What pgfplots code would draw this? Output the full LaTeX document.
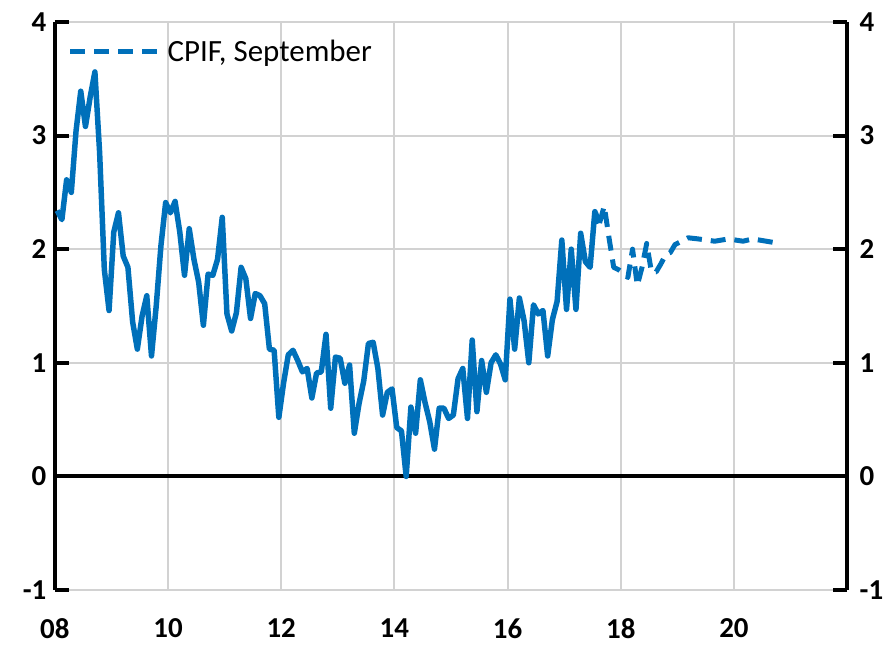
\documentclass[border=0pt]{standalone}
\usepackage{fontspec}
\setmainfont{Carlito}
\usepackage{pgfplots}
\pgfplotsset{compat=1.18}
\usepackage{pgfplotstable}

\definecolor{rbblue}{RGB}{0,112,186}
\definecolor{gridgray}{RGB}{210,210,210}

% CPIF outcome, monthly from Jan 2008 to Aug 2017 (annual percentage change)
\pgfplotstableread{
cpif
2.34
2.26
2.61
2.50
3.04
3.39
3.08
3.34
3.56
2.85
1.82
1.46
2.15
2.32
1.94
1.84
1.36
1.12
1.41
1.59
1.06
1.50
2.03
2.41
2.32
2.42
2.15
1.77
2.18
1.91
1.71
1.33
1.78
1.77
1.91
2.28
1.43
1.28
1.44
1.84
1.74
1.39
1.61
1.59
1.52
1.12
1.11
0.52
0.82
1.07
1.11
1.02
0.92
0.95
0.69
0.91
0.92
1.25
0.60
1.05
1.04
0.82
0.98
0.38
0.64
0.84
1.17
1.18
0.95
0.54
0.74
0.77
0.43
0.40
0.00
0.61
0.38
0.85
0.65
0.48
0.24
0.60
0.60
0.51
0.54
0.86
0.95
0.51
1.20
0.57
1.02
0.74
1.00
1.07
0.99
0.85
1.56
1.12
1.57
1.37
1.00
1.51
1.43
1.46
1.06
1.38
1.54
2.08
1.47
2.00
1.47
2.14
1.89
1.84
2.33
2.23
}\outcome

% forecast, September
\pgfplotstableread{
x y
2017.625 2.23
2017.708 2.38
2017.792 2.10
2017.875 1.84
2017.958 1.82
2018.042 1.79
2018.125 1.75
2018.208 2.00
2018.292 1.68
2018.375 1.84
2018.458 2.05
2018.542 1.80
2018.625 1.80
2018.708 1.87
2018.792 1.95
2018.875 1.97
2018.958 2.04
2019.190 2.10
2019.370 2.09
2019.660 2.07
2019.900 2.09
2020.160 2.07
2020.330 2.09
2020.690 2.06
}\forecast

\begin{document}
\begin{tikzpicture}
\begin{axis}[
    name=main,
    scale only axis,
    width=795pt, height=570pt,
    xmin=2008, xmax=2022,
    ymin=-1, ymax=4,
    axis y line*=left,
    axis x line*=bottom,
    x axis line style={draw=none},
    y axis line style={-, line width=4pt, black},
    xtick={2008,2010,...,2020},
    xticklabels={08,10,12,14,16,18,20},
    ytick={-1,0,...,4},
    yticklabels={-1,0,1,2,3,4},
    tick align=inside,
    major tick length=14pt,
    tick style={line width=4pt, black},
    every major x tick/.append style={draw=none},
    every x tick/.append style={draw=none},
    grid=major,
    major grid style={draw=gridgray, line width=2pt},
    /pgf/number format/assume math mode=true,
    ticklabel style={font=\fontsize{29}{31}\selectfont\bfseries},
    xticklabel style={yshift=-25pt},
    yticklabel style={xshift=-5pt},
    legend style={draw=none, fill=none, at={(0,1)}, anchor=north west,
        xshift=10pt, yshift=-14pt, font=\fontsize{31}{33}\selectfont},
    legend cell align=left,
    legend image code/.code={\draw[#1] (0pt,0pt) -- (87pt,0pt); \path (93pt,0pt);},
]
\addplot[black, line width=4pt, forget plot] coordinates {(2008,0) (2022,0)};
\addplot[rbblue, line width=5.5pt, line join=round, forget plot]
    table[x expr={2008+(\coordindex+0.5)/12}, y=cpif] {\outcome};
\addplot[rbblue, line width=5pt, line join=round, dash pattern=on 15pt off 9pt]
    table[x=x, y=y] {\forecast};
\addlegendentry{CPIF, September}
\end{axis}
\begin{axis}[
    scale only axis,
    width=795pt, height=570pt,
    xmin=2008, xmax=2022,
    ymin=-1, ymax=4,
    axis y line*=right,
    axis x line=none,
    xtick=\empty,
    y axis line style={-, line width=4pt, black},
    ytick={-1,0,...,4},
    yticklabels={-1,0,1,2,3,4},
    tick align=inside,
    major tick length=14pt,
    tick style={line width=4pt, black},
    /pgf/number format/assume math mode=true,
    ticklabel style={font=\fontsize{29}{31}\selectfont\bfseries},
    yticklabel style={xshift=9pt},
]
\end{axis}
\path (main.south west) ++(-55pt,-60pt);
\path (main.north east) ++(45pt,22pt);
\end{tikzpicture}
\end{document}
